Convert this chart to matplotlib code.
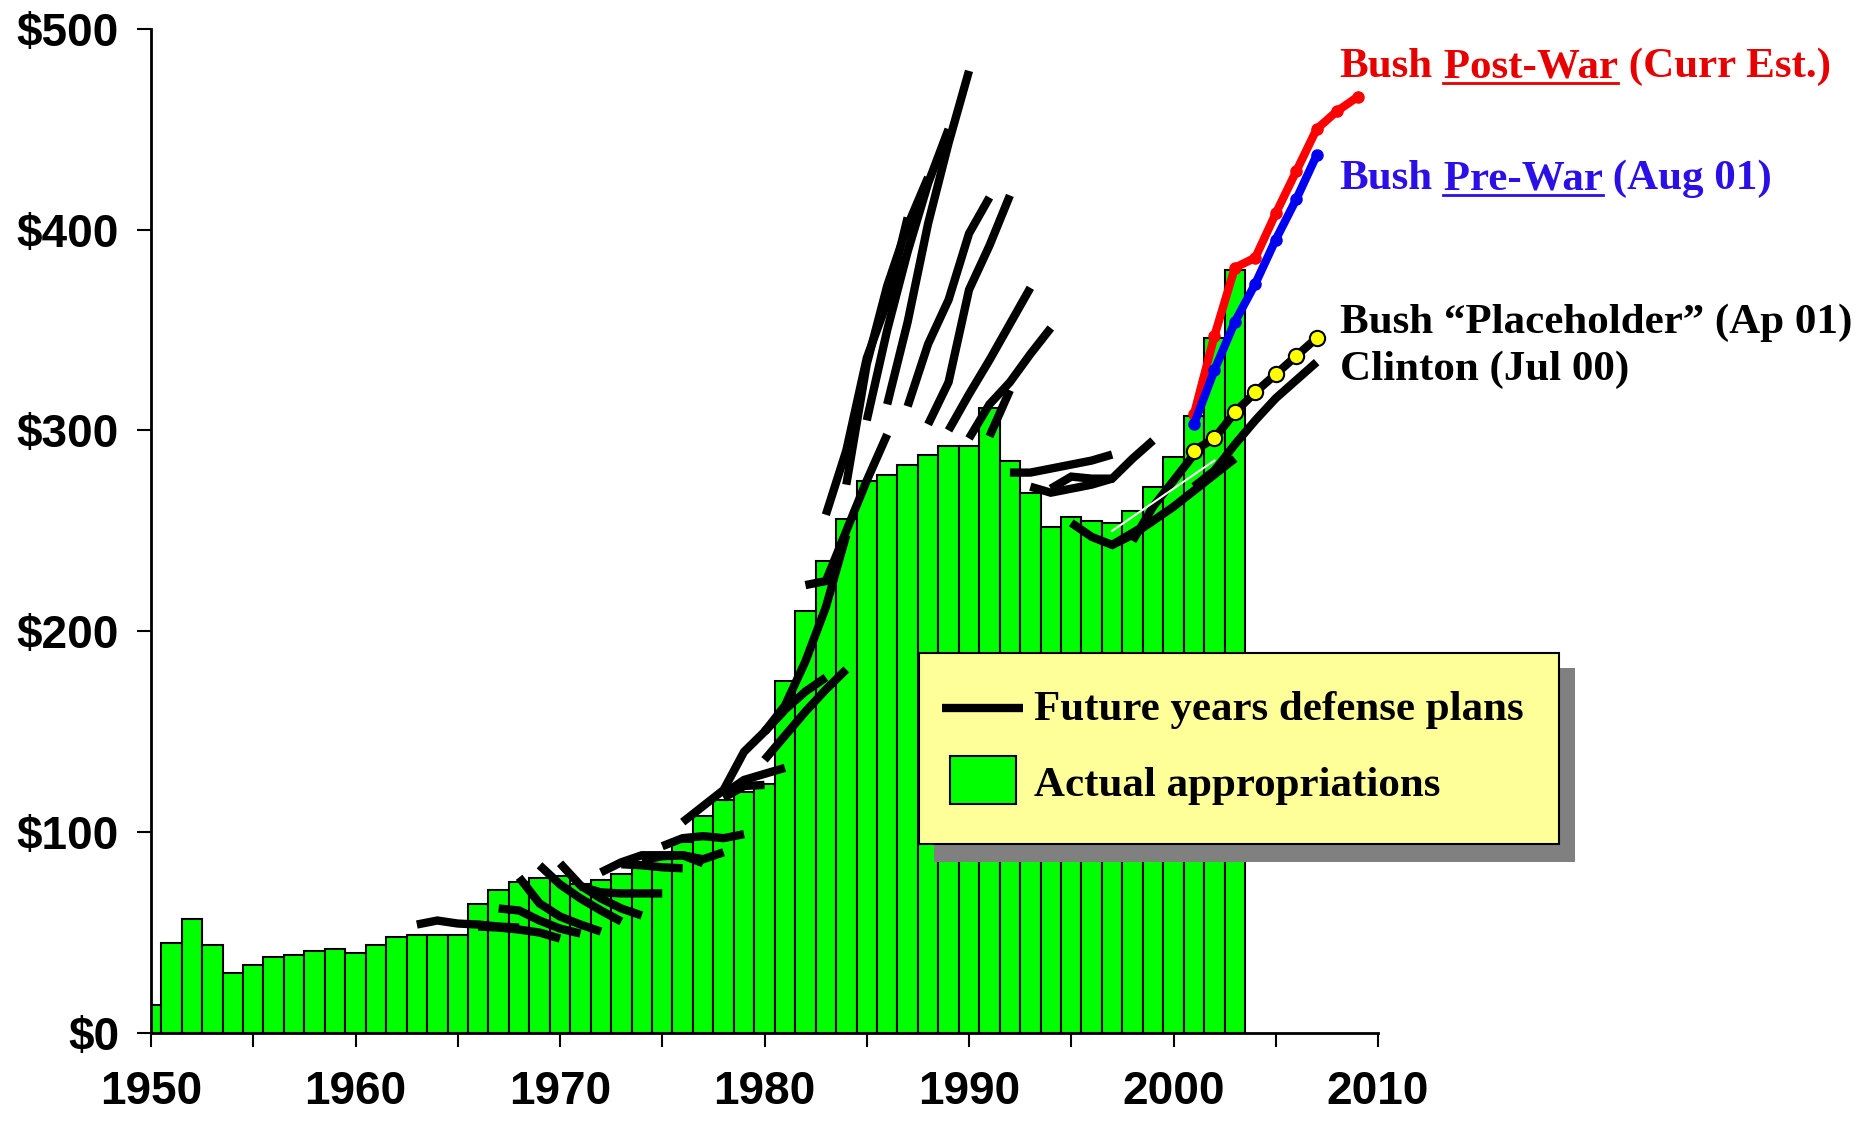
import matplotlib
matplotlib.use("Agg")
import matplotlib.pyplot as plt
from matplotlib.patches import Rectangle
from matplotlib.lines import Line2D

# actual appropriations, $ billions
years = list(range(1950, 2004))
actual = [14, 45, 57, 44, 30, 34, 38, 39, 41, 42,
          40, 44, 48, 49, 49, 49, 64, 71, 75, 77,
          78, 74, 76, 79, 85, 87, 95, 108, 116, 120,
          124, 175, 210, 235, 256, 275, 278, 283, 288, 292,
          292, 311, 285, 269, 252, 257, 255, 254, 260, 272,
          287, 307, 346, 380]

# future years defense plans: first year of each plan and its projected values
fydp_start = [1963, 1966, 1967, 1968, 1969, 1970, 1971, 1972, 1973, 1974, 1975,
              1976, 1978, 1978, 1980, 1980, 1980, 1982,
              1983, 1984, 1985, 1986, 1987, 1988, 1989, 1990, 1991,
              1992, 1993, 1994, 1995, 1997, 1998]
fydp_vals = [
    [54, 56, 54.5, 54, 53, 52.5],
    [53, 52.5, 51.5, 50, 47],
    [62, 61, 56, 52, 49.5],
    [77.5, 64.5, 58, 54, 50.5],
    [83.5, 74, 67, 61, 55.5],
    [84.5, 73.5, 67, 62, 58.5],
    [73, 70, 69.5, 69.5, 69.5],
    [80, 85, 88.5, 88.5, 88.5, 84.5],
    [84, 83.5, 82.5, 82],
    [86, 88, 88.5, 86.5, 90],
    [93, 97, 98, 97, 99],
    [105, 113, 121, 140, 150, 161],
    [119, 126, 129, 132],
    [117, 123, 123.5],
    [150, 161, 170, 177],
    [136, 148, 160, 171, 181],
    [150, 163, 185, 212, 248],
    [223, 225, 250, 275, 298],
    [258, 290, 336, 364, 406],
    [273, 333, 372, 402, 426],
    [305, 350, 389, 423, 450],
    [313, 354, 403, 443, 479],
    [312, 343, 365, 398, 416],
    [303, 324, 370, 392, 417],
    [300, 318, 335, 353, 371],
    [296, 313, 324, 338, 351],
    [297, 320],
    [279, 279, 281, 283, 285, 288],
    [272, 269, 271, 273, 276],
    [271, 277, 276, 276, 286, 295],
    [254, 247, 243, 249, 255],
    [243, 248, 255, 262, 270, 278, 286],
    [245, 262, 275, 288],
]

clinton_years = list(range(2001, 2008))
clinton = [272, 280, 293, 305, 316, 325, 334]
placeholder_years = list(range(2001, 2008))
placeholder = [290, 296, 309, 319, 328, 337, 346]
prewar_years = list(range(2001, 2008))
prewar = [303, 330, 354, 373, 395, 415, 437]
postwar_years = list(range(2001, 2010))
postwar = [308, 347, 381, 386, 408, 429, 450, 459, 466]
white_years = [1997, 2002]
white_vals = [250, 285]

W, H = 1868, 1121
fig = plt.figure(figsize=(W / 100, H / 100), dpi=100)
ax = fig.add_axes([151 / W, 1 - 1033 / H, (1378 - 151) / W, (1033 - 28.7) / H])

ax.bar(years, actual, width=1.0, color="#00ff00", edgecolor="black", linewidth=1.5, zorder=1)

for s, v in zip(fydp_start, fydp_vals):
    ax.plot(range(s, s + len(v)), v, color="black", lw=6, solid_capstyle="butt",
            solid_joinstyle="miter", zorder=2)

ax.plot(clinton_years, clinton, color="black", lw=6, solid_capstyle="butt", zorder=3)
ax.plot(white_years, white_vals, color="white", lw=1.5, zorder=3)
ax.plot(placeholder_years, placeholder, color="black", lw=6, marker="o", ms=11,
        mfc="#ffff00", mec="black", mew=1.5, zorder=4)
ax.plot(postwar_years, postwar, color="#ff0000", lw=6, marker="o", ms=8,
        mfc="#ff0000", mec="#ff0000", zorder=5, clip_on=False)
ax.plot(prewar_years, prewar, color="#0000f0", lw=6, marker="o", ms=8,
        mfc="#0000f0", mec="#0000f0", zorder=6)

ax.set_xlim(1950, 2010)
ax.set_ylim(0, 500)
ax.set_xticks(range(1950, 2011, 5))
ax.set_xticklabels([str(y) if y % 10 == 0 else "" for y in range(1950, 2011, 5)])
ax.set_yticks(range(0, 501, 100))
ax.set_yticklabels(["$%d" % v for v in range(0, 501, 100)])
for lab in ax.get_xticklabels() + ax.get_yticklabels():
    lab.set_fontfamily("Liberation Sans")
    lab.set_fontweight("bold")
    lab.set_fontsize(33)
ax.tick_params(axis="both", direction="out", length=10, width=1.5, color="black")
ax.tick_params(axis="x", pad=17)
ax.tick_params(axis="y", pad=13)
for sp in ["top", "right"]:
    ax.spines[sp].set_visible(False)
for sp in ["left", "bottom"]:
    ax.spines[sp].set_linewidth(2)

serif = dict(family="Liberation Serif", fontweight="bold", fontsize=31, va="baseline", ha="left")
renderer = fig.canvas.get_renderer()


def rich(x, y, parts):
    # parts: (text, color, underline); y is pixel from top
    for s, c, ul in parts:
        t = fig.text(x / W, 1 - y / H, s, color=c, **serif)
        bb = t.get_window_extent(renderer)
        if ul:
            word = fig.text(0, 0, s.strip(), alpha=0, **serif)
            w = word.get_window_extent(renderer).width
            fig.add_artist(Line2D([(bb.x1 - w) / W, bb.x1 / W], [1 - (y + 6) / H] * 2,
                                  color=c, lw=2, transform=fig.transFigure))
        x = bb.x1


red_t = "#e60000"
blue_t = "#2a10e6"
rich(1339.5, 77, [("Bush", red_t, False), (" Post-War", red_t, True), (" (Curr Est.)", red_t, False)])
rich(1339.5, 189, [("Bush", blue_t, False), (" Pre-War", blue_t, True), (" (Aug 01)", blue_t, False)])
rich(1339.5, 333, [("Bush \u201cPlaceholder\u201d (Ap 01)", "black", False)])
rich(1339.5, 380, [("Clinton (Jul 00)", "black", False)])

# legend box with drop shadow
fig.add_artist(Rectangle((933.5 / W, 1 - 861.7 / H), (1575.4 - 933.5) / W, (861.7 - 668.3) / H,
                         transform=fig.transFigure, facecolor="#808080", edgecolor="none", zorder=5))
fig.add_artist(Rectangle((918.6 / W, 1 - 844.3 / H), (1559.4 - 918.6) / W, (844.3 - 653.3) / H,
                         transform=fig.transFigure, facecolor="#ffff99", edgecolor="black",
                         lw=1.5, zorder=6))
fig.add_artist(Line2D([942.4 / W, 1022.8 / W], [1 - 708.3 / H] * 2, color="black", lw=6,
                      solid_capstyle="butt", transform=fig.transFigure, zorder=7))
fig.add_artist(Rectangle((950.4 / W, 1 - 804 / H), (1016 - 950.4) / W, (804 - 755.7) / H,
                         transform=fig.transFigure, facecolor="#00ff00", edgecolor="black",
                         lw=1.5, zorder=7))
fig.text(1034 / W, 1 - 720 / H, "Future years defense plans", color="black", zorder=8, **serif)
fig.text(1034 / W, 1 - 796 / H, "Actual appropriations", color="black", zorder=8, **serif)

fig.savefig("out.png", dpi=100, facecolor="white")
